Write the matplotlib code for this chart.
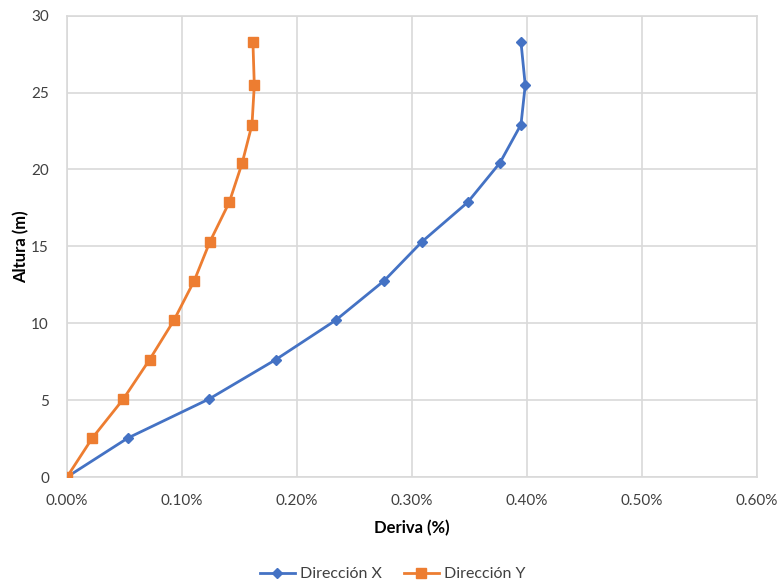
import matplotlib.pyplot as plt
from matplotlib.ticker import FuncFormatter

# Heights (m) and drift (%)
altura = [0, 2.53, 5.07, 7.64, 10.19, 12.77, 15.30, 17.86, 20.43, 22.92, 25.48, 28.28]
deriva_x = [0, 0.0528, 0.1235, 0.1817, 0.2336, 0.2759, 0.3087, 0.3484, 0.3765, 0.3948, 0.3985, 0.3948]
deriva_y = [0, 0.0220, 0.0490, 0.0719, 0.0930, 0.1107, 0.1243, 0.1411, 0.1524, 0.1609, 0.1629, 0.1617]

plt.rcParams['font.family'] = ['Lato', 'DejaVu Sans']

fig = plt.figure(figsize=(7.77, 5.84), dpi=100)
ax = fig.add_axes([0.0862, 0.1832, 0.888, 0.790])

ax.plot(deriva_x, altura, color='#4472C4', lw=2, marker='D', ms=5.5,
        label='Dirección X', zorder=3)
ax.plot(deriva_y, altura, color='#ED7D31', lw=2, marker='s', ms=7,
        label='Dirección Y', zorder=3)

ax.set_xlim(0, 0.6)
ax.set_ylim(0, 30)
ax.set_xticks([0, 0.1, 0.2, 0.3, 0.4, 0.5, 0.6])
ax.set_yticks([0, 5, 10, 15, 20, 25, 30])
ax.xaxis.set_major_formatter(FuncFormatter(lambda v, p: f"{v:.2f}%"))

ax.grid(True, color='#D9D9D9', lw=1.2)
ax.set_axisbelow(True)
for s in ax.spines.values():
    s.set_color('#D9D9D9')
    s.set_linewidth(1.2)
ax.tick_params(axis='x', length=0, labelsize=11, labelcolor='#404040', pad=12)
ax.tick_params(axis='y', length=0, labelsize=11, labelcolor='#404040', pad=13)

ax.set_xlabel('Deriva (%)', fontsize=12, fontweight='bold', labelpad=9)
ax.set_ylabel('Altura (m)', fontsize=12, fontweight='bold', labelpad=1)

fig.legend(loc='lower center', bbox_to_anchor=(0.505, -0.02), ncol=2, frameon=False,
           fontsize=11.5, handlelength=2.2, handletextpad=0.3, columnspacing=1.4,
           labelcolor='#404040')

fig.savefig('out.png', dpi=100)
